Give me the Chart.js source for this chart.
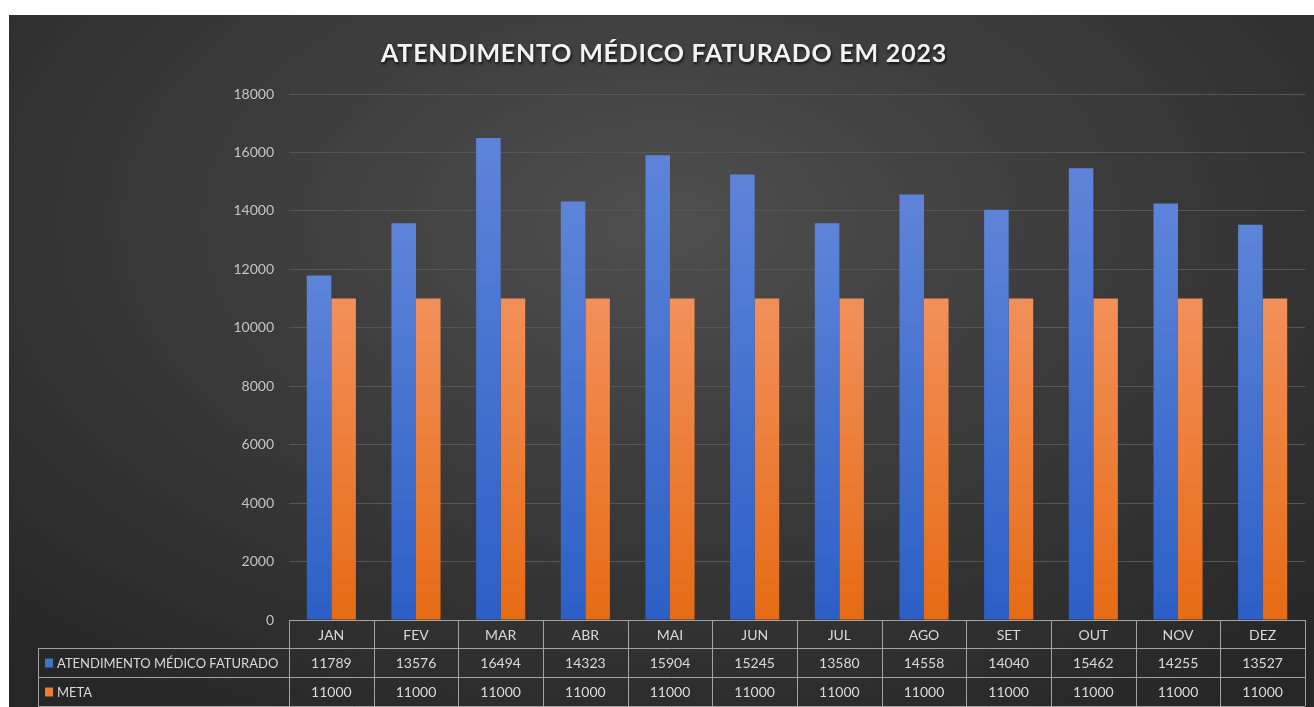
<!DOCTYPE html>
<html>
<head>
<meta charset="utf-8">
<script src="https://cdn.jsdelivr.net/npm/chart.js@4.4.1/dist/chart.umd.min.js"></script>
<style>
    body { margin: 0; background: #ffffff; }
    #wrap {
        position: absolute; left: 9px; top: 15px; width: 1305px; height: 692px;
        background: radial-gradient(ellipse 75% 85% at 50% 30%, #4f4f4f 0%, #3b3b3b 45%, #262626 100%);
    }
</style>
</head>
<body>
<div id="wrap"><canvas id="faturamentoChart"></canvas></div>
<script>
const chartTitle = 'ATENDIMENTO MÉDICO FATURADO EM 2023';
const months = ['JAN', 'FEV', 'MAR', 'ABR', 'MAI', 'JUN', 'JUL', 'AGO', 'SET', 'OUT', 'NOV', 'DEZ'];
const seriesNames = ['ATENDIMENTO MÉDICO FATURADO', 'META'];
const faturado = [11789, 13576, 16494, 14323, 15904, 15245, 13580, 14558, 14040, 15462, 14255, 13527];
const meta = [11000, 11000, 11000, 11000, 11000, 11000, 11000, 11000, 11000, 11000, 11000, 11000];
const yMax = 18000;
const yStep = 2000;

const seriesColors = [
    { top: '#5d84d8', bottom: '#2c5fc6', mark: '#4472c4' },
    { top: '#f2905a', bottom: '#e66b14', mark: '#ed7d31' }
];

function barGradient(c) {
    return function (context) {
        let chart = context.chart;
        if (!chart.chartArea || !context.parsed) return c.bottom;
        let y = chart.scales.y;
        let g = chart.ctx.createLinearGradient(0, y.getPixelForValue(context.parsed.y), 0, y.getPixelForValue(0));
        g.addColorStop(0, c.top);
        g.addColorStop(1, c.bottom);
        return g;
    };
}

const textFont = 'Lato, "Open Sans", sans-serif';

// title with shadow + data table under the plot
const extras = {
    id: 'extras',
    afterDraw(chart) {
        let ctx = chart.ctx;
        let a = chart.chartArea;
        let n = months.length;
        let w = (a.right - a.left) / n;
        let legendLeft = 29;
        let rows = [a.bottom, a.bottom + 28, a.bottom + 57, a.bottom + 86];
        let px = v => Math.round(v) + 0.5;

        ctx.save();
        // title
        ctx.font = 'bold 25px ' + textFont;
        ctx.fillStyle = '#f2f2f2';
        ctx.textAlign = 'center';
        ctx.textBaseline = 'alphabetic';
        ctx.shadowColor = 'rgba(0,0,0,0.75)';
        ctx.shadowOffsetX = 1;
        ctx.shadowOffsetY = 2;
        ctx.shadowBlur = 3;
        if ('letterSpacing' in ctx) ctx.letterSpacing = '0.8px';
        ctx.fillText(chartTitle, 655, 47);
        if ('letterSpacing' in ctx) ctx.letterSpacing = '0px';
        ctx.shadowColor = 'transparent';

        // table lines
        ctx.strokeStyle = '#a3a3a3';
        ctx.lineWidth = 1;
        ctx.beginPath();
        ctx.moveTo(a.left, px(rows[0]));
        ctx.lineTo(a.right, px(rows[0]));
        for (let r = 1; r < rows.length; r++) {
            ctx.moveTo(legendLeft, px(rows[r]));
            ctx.lineTo(a.right, px(rows[r]));
        }
        for (let i = 0; i <= n; i++) {
            let x = px(a.left + i * w);
            ctx.moveTo(x, rows[0]);
            ctx.lineTo(x, rows[3]);
        }
        ctx.moveTo(px(legendLeft), rows[1]);
        ctx.lineTo(px(legendLeft), rows[3]);
        ctx.stroke();

        // table text
        ctx.font = '14px ' + textFont;
        ctx.fillStyle = '#d9d9d9';
        ctx.textBaseline = 'middle';
        ctx.textAlign = 'center';
        let values = [faturado, meta];
        for (let i = 0; i < n; i++) {
            let cx = a.left + (i + 0.5) * w;
            ctx.fillText(months[i], cx, (rows[0] + rows[1]) / 2 + 1);
            for (let s = 0; s < values.length; s++) {
                ctx.fillText(String(values[s][i]), cx, (rows[s + 1] + rows[s + 2]) / 2 + 1);
            }
        }
        ctx.textAlign = 'left';
        ctx.font = '13px ' + textFont;
        for (let s = 0; s < seriesNames.length; s++) {
            let cy = (rows[s + 1] + rows[s + 2]) / 2;
            ctx.fillStyle = seriesColors[s].mark;
            ctx.fillRect(36, cy - 4, 8, 9);
            ctx.fillStyle = '#d9d9d9';
            ctx.fillText(seriesNames[s], 48, cy + 1);
        }
        ctx.restore();
    }
};

let ctx = document.getElementById('faturamentoChart').getContext('2d');
let myChart = new Chart(ctx, {
    type: 'bar',
    data: {
        labels: months,
        datasets: [{
            label: seriesNames[0],
            data: faturado,
            backgroundColor: barGradient(seriesColors[0]),
            borderWidth: 0
        }, {
            label: seriesNames[1],
            data: meta,
            backgroundColor: barGradient(seriesColors[1]),
            borderWidth: 0
        }]
    },
    options: {
        responsive: true,
        maintainAspectRatio: false,
        animation: false,
        datasets: {
            bar: { categoryPercentage: 0.58, barPercentage: 1 }
        },
        layout: {
            padding: { top: 79, right: 9, bottom: 87, left: 0 }
        },
        plugins: {
            legend: { display: false },
            title: { display: false },
            tooltip: { enabled: false }
        },
        scales: {
            x: { display: false },
            y: {
                min: 0,
                max: yMax,
                border: { display: false },
                grid: { color: '#565656', lineWidth: 1, drawTicks: false },
                ticks: {
                    stepSize: yStep,
                    padding: 15,
                    color: '#c4c4c4',
                    font: { family: textFont, size: 14 },
                    callback: v => String(v)
                },
                afterFit(scale) { scale.width = 280; }
            }
        }
    },
    plugins: [extras]
});
</script>
</body>
</html>
